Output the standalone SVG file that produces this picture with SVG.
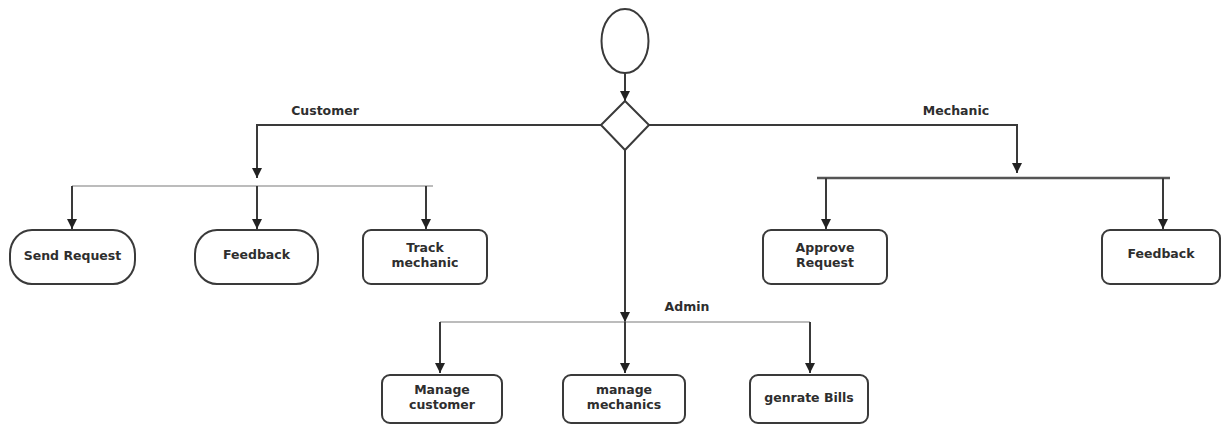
<svg xmlns="http://www.w3.org/2000/svg" width="1221" height="426" viewBox="0 0 1221 426">
  <style>
    .bg { fill: #ffffff; }
    .shape { fill: #ffffff; stroke: #3a3a3a; stroke-width: 2; }
    .line { fill: none; stroke: #3a3a3a; stroke-width: 2; }
    .thin { fill: none; stroke: #7a7a7a; stroke-width: 1.2; }
    .bar { fill: none; stroke: #555555; stroke-width: 2.5; }
    .label { font-family: "DejaVu Sans", Verdana, sans-serif; font-weight: bold; font-size: 12.5px; fill: #2e2e2e; text-anchor: middle; }
  </style>
  <defs>
    <marker id="arrow" viewBox="0 0 10 10" refX="10" refY="5" markerWidth="10" markerHeight="10" markerUnits="userSpaceOnUse" orient="auto">
      <path d="M0,0 L10,5 L0,10 z" fill="#222222"/>
    </marker>
  </defs>
  <rect class="bg" x="0" y="0" width="1221" height="426"/>

  <g id="connectors">
    <!-- start to decision -->
    <path class="line" d="M625,73 L625,101" marker-end="url(#arrow)"/>
    <!-- customer branch -->
    <path class="line" d="M601,125 L257,125 L257,178" marker-end="url(#arrow)"/>
    <path class="thin" d="M72,186 L433,186"/>
    <path class="line" d="M72,186 L72,229" marker-end="url(#arrow)"/>
    <path class="line" d="M257,186 L257,229" marker-end="url(#arrow)"/>
    <path class="line" d="M426,186 L426,229" marker-end="url(#arrow)"/>
    <!-- mechanic branch -->
    <path class="line" d="M649,125 L1017,125 L1017,173" marker-end="url(#arrow)"/>
    <path class="bar" d="M817,178 L1170,178"/>
    <path class="line" d="M826,178 L826,229" marker-end="url(#arrow)"/>
    <path class="line" d="M1163,178 L1163,229" marker-end="url(#arrow)"/>
    <!-- admin branch -->
    <path class="line" d="M625,150 L625,322" marker-end="url(#arrow)"/>
    <path class="thin" d="M440,322 L810,322"/>
    <path class="line" d="M440,322 L440,373" marker-end="url(#arrow)"/>
    <path class="line" d="M625,322 L625,373" marker-end="url(#arrow)"/>
    <path class="line" d="M810,322 L810,373" marker-end="url(#arrow)"/>
    <!-- branch labels -->
    <text class="label" x="325" y="115">Customer</text>
    <text class="label" x="956" y="115">Mechanic</text>
    <text class="label" x="687" y="311">Admin</text>
  </g>

  <g id="start">
    <ellipse class="shape" cx="625" cy="41" rx="23.5" ry="32"/>
  </g>
  <g id="decision">
    <polygon class="shape" points="625,101 649,125 625,150 601,125"/>
  </g>

  <g id="send-request">
    <rect class="shape" x="10" y="230" width="125" height="54" rx="22" ry="24"/>
    <text class="label" x="72.5" y="260">Send Request</text>
  </g>
  <g id="customer-feedback">
    <rect class="shape" x="195" y="230" width="123" height="54" rx="22" ry="24"/>
    <text class="label" x="256.5" y="259">Feedback</text>
  </g>
  <g id="track-mechanic">
    <rect class="shape" x="363" y="230" width="124" height="54" rx="8" ry="8"/>
    <text class="label" x="425" y="252">Track</text>
    <text class="label" x="425" y="267">mechanic</text>
  </g>

  <g id="approve-request">
    <rect class="shape" x="763" y="230" width="124" height="54" rx="8" ry="8"/>
    <text class="label" x="825" y="252">Approve</text>
    <text class="label" x="825" y="267">Request</text>
  </g>
  <g id="mechanic-feedback">
    <rect class="shape" x="1102" y="230" width="118" height="54" rx="8" ry="8"/>
    <text class="label" x="1161" y="258">Feedback</text>
  </g>

  <g id="manage-customer">
    <rect class="shape" x="382" y="375" width="120" height="48" rx="8" ry="8"/>
    <text class="label" x="442" y="394">Manage</text>
    <text class="label" x="442" y="409">customer</text>
  </g>
  <g id="manage-mechanics">
    <rect class="shape" x="563" y="375" width="122" height="48" rx="8" ry="8"/>
    <text class="label" x="624" y="394">manage</text>
    <text class="label" x="624" y="409">mechanics</text>
  </g>
  <g id="generate-bills">
    <rect class="shape" x="750" y="375" width="118" height="48" rx="8" ry="8"/>
    <text class="label" x="809" y="402">genrate Bills</text>
  </g>
</svg>
